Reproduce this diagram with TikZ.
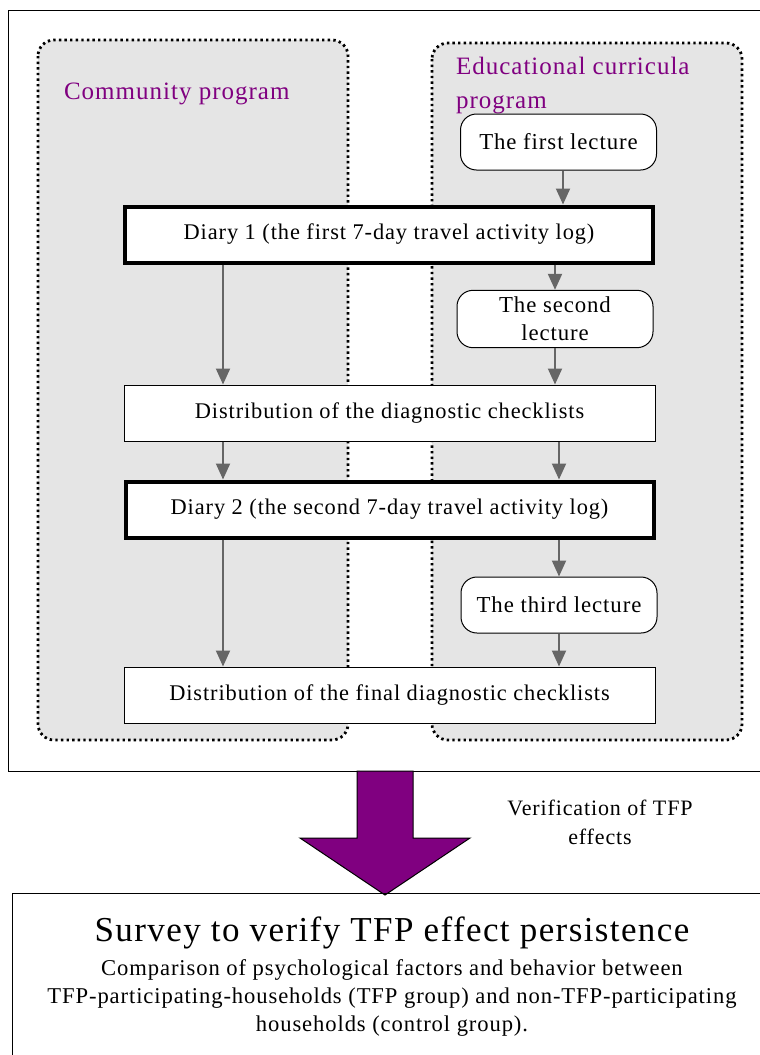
\documentclass[tikz,border=0pt]{standalone}
\usepackage{fontspec}
\setmainfont{Liberation Serif}[LetterSpace=4]
\usetikzlibrary{arrows.meta}
\definecolor{progfill}{HTML}{E5E5E5}
\definecolor{progpurple}{HTML}{800080}
\definecolor{flowgray}{HTML}{666666}
\tikzset{
    prog/.style={draw, fill=progfill, rounded corners=8pt, line width=1.4pt,
        dash pattern=on 1.2pt off 1.6pt},
    progtitle/.style={text=progpurple, anchor=west, align=left,
        font=\fontsize{12.5}{17}\selectfont},
    stepbox/.style={draw, fill=white, line width=0.5pt, minimum width=265.5pt,
        minimum height=28pt, font=\fontsize{11.2}{14}\selectfont},
    diarybox/.style={stepbox, line width=2pt, minimum width=264pt},
    lecture/.style={draw, fill=white, rounded corners=8pt, line width=0.5pt,
        minimum width=98pt, minimum height=28pt, align=center,
        font=\fontsize{11.4}{14}\selectfont},
    flow/.style={draw=flowgray, line width=1pt, -{Triangle[width=7pt,length=8pt]}}
}

\begin{document}
\begin{tikzpicture}[x=0.5pt, y=-0.5pt]
	\useasboundingbox (0,0) rectangle (760,1055);
	% frame and the two programs
	\draw[line width=0.5pt] (8,10) rectangle (765,771);
	\draw[prog] (38,40) rectangle (348,740);
	\draw[prog] (432,43) rectangle (742,740);
	\node (community) [progtitle] at (57,94) {Community program};
	\node (educational) [progtitle, anchor=north west] at (449,50) {Educational curricula\\program};
	\coordinate (L) at (223,0);
	
	% steps
	\node (lecture1) [lecture] at (558.5,142) {The first lecture};
	\node (diary1) [diarybox] at (389,234.5) {Diary 1 (the first 7-day travel activity log)};
	\node (lecture2) [lecture] at (555,319) {The second\\lecture};
	\node (dist1) [stepbox] at (389.5,413) {Distribution of the diagnostic checklists};
	\node (diary2) [diarybox] at (389.5,509.5) {Diary 2 (the second 7-day travel activity log)};
	\node (lecture3) [lecture] at (559,605) {The third lecture};
	\node (dist2) [stepbox] at (389.5,695) {Distribution of the final diagnostic checklists};
	
	\draw[flow] (lecture1.south -| 563,0) -- (diary1.north -| 563,0);
	\draw[flow] (diary1.south -| lecture2) -- (lecture2.north);
	\draw[flow] (lecture2.south) -- (dist1.north -| lecture2);
	\draw[flow] (dist1.south -| lecture3) -- (diary2.north -| lecture3);
	\draw[flow] (diary2.south -| lecture3) -- (lecture3.north);
	\draw[flow] (lecture3.south) -- (dist2.north -| lecture3);
	\draw[flow] (diary1.south -| L) -- (dist1.north -| L);
	\draw[flow] (dist1.south -| L) -- (diary2.north -| L);
	\draw[flow] (diary2.south -| L) -- (dist2.north -| L);
	
	% verification
	\draw[line width=0.5pt, fill=progpurple] (357,771) -- (413,771) -- (413,838) -- (470,838)
		-- (385,895) -- (300,838) -- (357,838) -- cycle;
	\node (verif) [align=center, font=\fontsize{11}{14.5}\selectfont] at (600,822) {Verification of TFP\\effects};
	\draw[line width=0.5pt] (12,893) rectangle (765,1060);
	\node (survey) [font=\fontsize{17.5}{20}\selectfont] at (392,933) {Survey to verify TFP effect persistence};
	\node (compare) [align=center, font=\fontsize{11.3}{14}\selectfont] at (392,998)
		{Comparison of psychological factors and behavior between\\
		TFP-participating-households (TFP group) and non-TFP-participating\\
		households (control group).};
\end{tikzpicture}
\end{document}
